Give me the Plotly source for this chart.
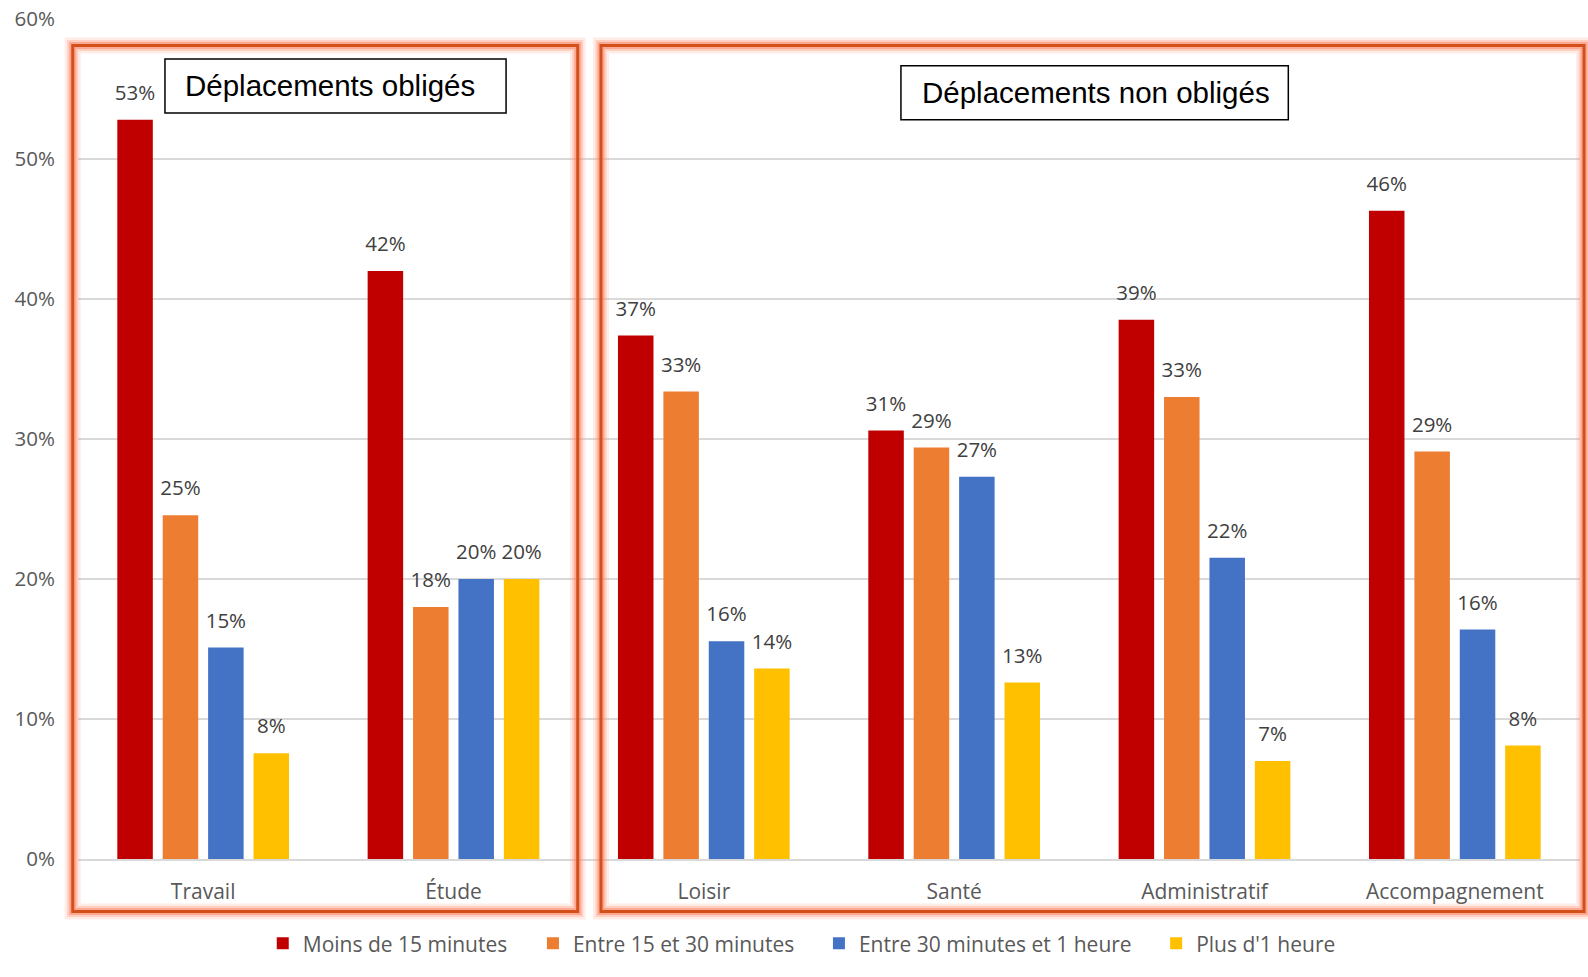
import plotly.graph_objects as go

# Motifs de déplacement et répartition des durées (en %)
categories = ["Travail", "Étude", "Loisir", "Santé", "Administratif", "Accompagnement"]
moins_15 = [52.8, 42.0, 37.4, 30.6, 38.52, 46.3]
entre_15_30 = [24.55, 18.0, 33.4, 29.4, 33.0, 29.1]
entre_30_60 = [15.1, 20.0, 15.55, 27.3, 21.52, 16.4]
plus_1h = [7.55, 20.0, 13.6, 12.6, 7.0, 8.1]

series_names = ["Moins de 15 minutes", "Entre 15 et 30 minutes",
                "Entre 30 minutes et 1 heure", "Plus d'1 heure"]
series_values = [moins_15, entre_15_30, entre_30_60, plus_1h]
series_colors = ["#C00000", "#ED7D31", "#4472C4", "#FFC000"]

group_titles = ["Déplacements obligés", "Déplacements non obligés"]

FONT = "Open Sans"
GRAY = "#595959"
LABEL = "#404040"
BARGAP = 0.2745

# one legend box per series so the entries can be spaced freely
legend_ids = ["legend", "legend2", "legend3", "legend4"]
legend_x = [0.1230, 0.3029, 0.4933, 0.7178]

fig = go.Figure()

for name, vals, col, lg in zip(series_names, series_values, series_colors, legend_ids):
    fig.add_trace(go.Bar(
        x=categories, y=vals, name=name, legend=lg,
        marker=dict(color=col, line=dict(width=0)),
        hoverinfo="skip",
    ))

# value labels, aligned with the grouped bars
for name, vals in zip(series_names, series_values):
    fig.add_trace(go.Scatter(
        x=categories, y=vals, mode="markers+text",
        text=[f"{v:.0f}%" for v in vals],
        textposition="top center",
        textfont=dict(family=FONT, size=20.5, color=LABEL),
        marker=dict(size=22, opacity=0),
        showlegend=False, hoverinfo="skip", cliponaxis=False,
    ))

shapes = []
annotations = []

def glow_rect(x0, y0, x1, y1):
    out = []
    for w, c in [(16, "rgba(255,150,120,0.18)"), (11, "rgba(255,140,110,0.30)"),
                 (7, "rgba(250,120,90,0.45)"), (3, "#D4501A")]:
        out.append(dict(type="rect", xref="paper", yref="paper",
                        x0=x0, y0=y0, x1=x1, y1=y1,
                        line=dict(color=c, width=w), layer="above"))
    return out

# frames around the two families of trips
shapes += glow_rect(-0.0035, -0.0624, 0.3327, 0.9686)
shapes += glow_rect(0.3482, -0.0624, 1.0027, 0.9686)

# title boxes (x0, y0, x1, y1, text left edge)
boxes = [(0.0579, 0.8881, 0.2850, 0.9524, 0.0699),
         (0.5479, 0.8801, 0.8058, 0.9444, 0.5603)]
for (x0, y0, x1, y1, tx), title in zip(boxes, group_titles):
    shapes.append(dict(type="rect", xref="paper", yref="paper",
                       x0=x0, y0=y0, x1=x1, y1=y1,
                       line=dict(color="black", width=1.5),
                       fillcolor="white", layer="above"))
    annotations.append(dict(xref="paper", yref="paper",
                            x=tx, y=(y0 + y1) / 2,
                            text=title, showarrow=False,
                            xanchor="left", yanchor="middle",
                            font=dict(family="Liberation Sans", size=29.5, color="black")))

legend_style = dict(orientation="h", xanchor="left", y=-0.1008, yanchor="middle",
                    font=dict(family=FONT, size=21, color=GRAY),
                    itemclick=False, itemdoubleclick=False,
                    bgcolor="rgba(0,0,0,0)")

layout_legends = {lg: dict(legend_style, x=lx) for lg, lx in zip(legend_ids, legend_x)}

fig.update_layout(
    width=1588, height=977,
    margin=dict(l=78, r=8, t=19, b=118, autoexpand=False),
    paper_bgcolor="white", plot_bgcolor="white",
    barmode="group", bargap=BARGAP, bargroupgap=0.218,
    scattermode="group", scattergap=BARGAP,
    font=dict(family=FONT, color=GRAY),
    shapes=shapes, annotations=annotations,
    xaxis=dict(type="category", showgrid=False, showline=True,
               linecolor="#D9D9D9", linewidth=1.5, automargin=False,
               tickfont=dict(family=FONT, size=21, color=GRAY),
               ticks="", ticklabelstandoff=13),
    yaxis=dict(range=[0, 60], dtick=10, ticksuffix="%",
               showgrid=True, gridcolor="#D9D9D9", gridwidth=1.5,
               zeroline=False, showline=False, automargin=False,
               tickfont=dict(family=FONT, size=20.5, color=GRAY),
               ticks="", ticklabelstandoff=22),
    **layout_legends,
)

fig.write_html("out.html")
